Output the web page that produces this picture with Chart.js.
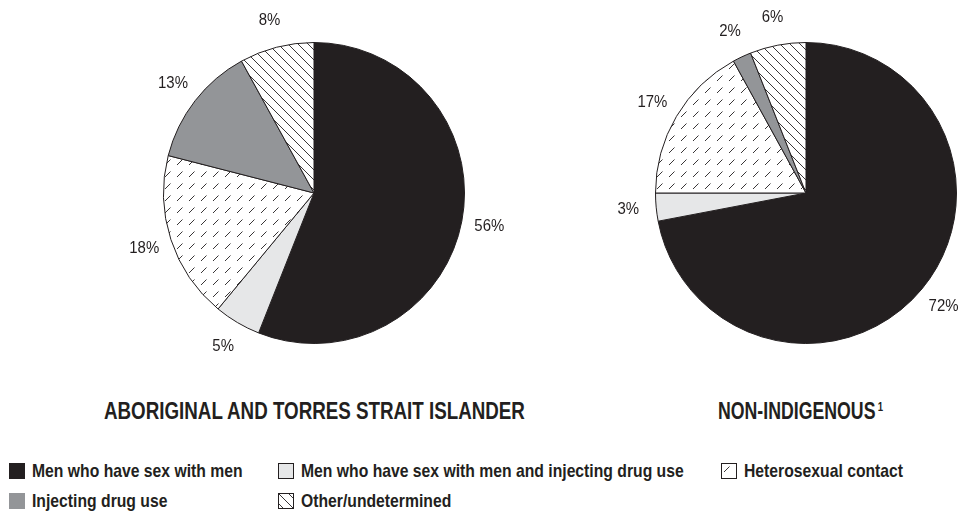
<!DOCTYPE html>
<html>
<head>
<meta charset="utf-8">
<script src="https://cdn.jsdelivr.net/npm/chart.js@4.4.0/dist/chart.umd.min.js"></script>
<style>
html, body { margin: 0; padding: 0; background: #fff; overflow: hidden; }
#page { position: relative; width: 965px; height: 511px; color: #231f20;
  font-family: "Liberation Sans", Arial, sans-serif; }
canvas.pie { position: absolute; top: 0; }
.title { position: absolute; top: 398.5px; line-height: 24px; font-size: 24px; font-weight: bold;
  white-space: nowrap; }
.title sup { font-size: 13px; vertical-align: 0; position: relative; top: -8px; margin-left: 3px; }
.swatch { position: absolute; }
.ltext { position: absolute; line-height: 16px; font-size: 18.5px; font-weight: bold; white-space: nowrap;
  transform: scaleX(0.85); transform-origin: 0 50%; }
</style>
</head>
<body>
<div id="page">
  <canvas id="leftPie" class="pie" width="400" height="387" style="left:114px"></canvas>
  <canvas id="rightPie" class="pie" width="359" height="387" style="left:606px"></canvas>
</div>
<script>
const categories = [
  'Men who have sex with men',
  'Men who have sex with men and injecting drug use',
  'Heterosexual contact',
  'Injecting drug use',
  'Other/undetermined'
];
const indigenousValues = [56, 5, 18, 13, 8];
const nonIndigenousValues = [72, 3, 17, 2, 6];
const panelTitles = ['ABORIGINAL AND TORRES STRAIT ISLANDER', 'NON-INDIGENOUS'];
const panelNotes = ['', '1'];

const INK = '#231f20';

// small tiles for the two hatched categories
function makeTile(kind) {
  const size = kind === 'dash' ? 12 : 10;
  const c = document.createElement('canvas');
  c.width = size; c.height = size;
  const g = c.getContext('2d');
  g.fillStyle = '#fff';
  g.fillRect(0, 0, size, size);
  g.strokeStyle = INK;
  g.lineWidth = 0.9;
  g.beginPath();
  if (kind === 'back') {
    g.moveTo(-1, -1); g.lineTo(11, 11);
    g.moveTo(-1, 9); g.lineTo(1, 11);
    g.moveTo(9, -1); g.lineTo(11, 1);
  } else {
    g.moveTo(3, 9); g.lineTo(8.5, 3.5);
  }
  g.stroke();
  return c;
}

function fillFor(ctx, i) {
  if (i === 2) return ctx.createPattern(makeTile('dash'), 'repeat');
  if (i === 4) return ctx.createPattern(makeTile('back'), 'repeat');
  return [INK, '#e6e7e8', null, '#939598'][i];
}

const pctLabels = {
  id: 'pctLabels',
  afterDatasetsDraw(chart) {
    const ctx = chart.ctx;
    const meta = chart.getDatasetMeta(0);
    const vals = chart.data.datasets[0].data;
    ctx.save();
    ctx.font = '17px "Liberation Sans", Arial, sans-serif';
    ctx.fillStyle = INK;
    ctx.textAlign = 'center';
    ctx.textBaseline = 'middle';
    meta.data.forEach((arc, i) => {
      const p = arc.getProps(['x', 'y', 'startAngle', 'endAngle', 'outerRadius'], true);
      const mid = (p.startAngle + p.endAngle) / 2;
      const r = p.outerRadius + 28;
      ctx.save();
      ctx.translate(p.x + Math.cos(mid) * r, p.y + Math.sin(mid) * r);
      ctx.scale(0.88, 1);
      ctx.fillText(vals[i] + '%', 0, 0);
      ctx.restore();
    });
    ctx.restore();
  }
};

function pieChart(id, values, padding) {
  const el = document.getElementById(id);
  const ctx = el.getContext('2d');
  return new Chart(el, {
    type: 'pie',
    data: {
      labels: categories,
      datasets: [{
        data: values,
        backgroundColor: categories.map((c, i) => fillFor(ctx, i)),
        borderColor: INK,
        borderWidth: 1
      }]
    },
    options: {
      responsive: false,
      animation: false,
      layout: { padding: padding },
      plugins: { legend: { display: false }, tooltip: { enabled: false } }
    },
    plugins: [pctLabels]
  });
}

pieChart('leftPie', indigenousValues, { left: 49, right: 49, top: 42, bottom: 43 });
pieChart('rightPie', nonIndigenousValues, { left: 49, right: 8, top: 42, bottom: 43 });

// panel titles, squeezed to the condensed width of the original
const page = document.getElementById('page');
const titleBox = [[104, 525], [718, 883]];
panelTitles.forEach((t, i) => {
  const d = document.createElement('div');
  d.className = 'title';
  d.textContent = t;
  if (panelNotes[i]) {
    const s = document.createElement('sup');
    s.textContent = panelNotes[i];
    d.appendChild(s);
  }
  page.appendChild(d);
  const w = d.getBoundingClientRect().width;
  const [x0, x1] = titleBox[i];
  d.style.left = x0 + 'px';
  d.style.transformOrigin = '0 50%';
  d.style.transform = 'scaleX(' + ((x1 - x0) / w).toFixed(3) + ')';
});

// legend, 3 columns
const colX = [9, 278, 721];
const rowY = [463, 493];
categories.forEach((name, i) => {
  const x = colX[i % 3], y = rowY[Math.floor(i / 3)];
  const sw = document.createElement('canvas');
  sw.width = 16; sw.height = 16;
  sw.className = 'swatch';
  sw.style.left = x + 'px';
  sw.style.top = y + 'px';
  const g = sw.getContext('2d');
  g.fillStyle = fillFor(g, i);
  g.fillRect(0, 0, 16, 16);
  if (i === 1 || i === 2 || i === 4) {
    g.strokeStyle = INK;
    g.lineWidth = 1;
    g.strokeRect(0.5, 0.5, 15, 15);
  }
  page.appendChild(sw);
  const t = document.createElement('div');
  t.className = 'ltext';
  t.style.left = (x + 23) + 'px';
  t.style.top = y + 'px';
  t.textContent = name;
  page.appendChild(t);
});
</script>
</body>
</html>
